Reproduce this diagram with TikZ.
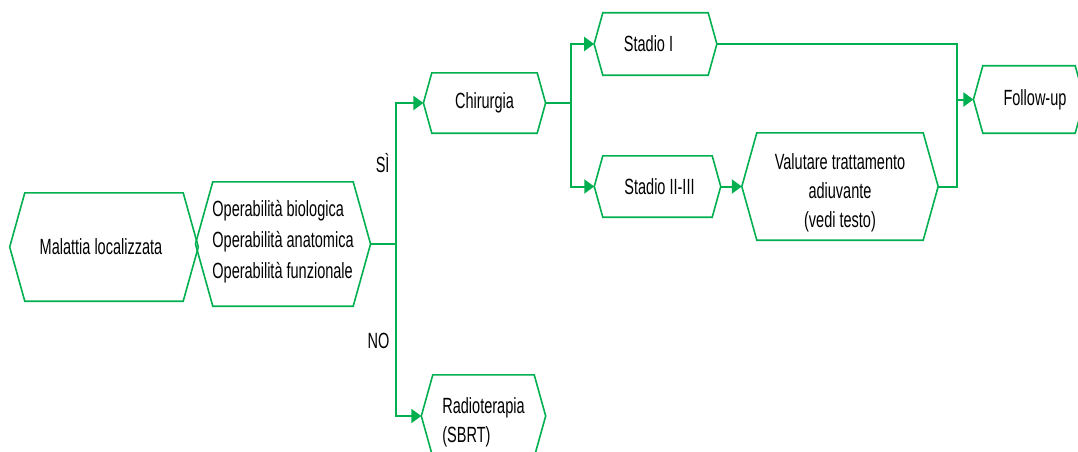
\documentclass[tikz,border=0pt]{standalone}
\usepackage{fontspec}
\newfontfamily\labelfont{Liberation Sans}[FakeStretch=0.66]
\usetikzlibrary{arrows.meta,calc}
\definecolor{flowgreen}{RGB}{0,176,80}
\tikzset{
  hexlabel/.style={rectangle, draw=none, inner sep=0pt,
    font=\labelfont\fontsize{22}{29}\selectfont, text=black},
  hexline/.style={draw=flowgreen, line width=1.6pt, line join=miter},
  link/.style={draw=flowgreen, line width=2pt},
  arrowlink/.style={link, -{Triangle[length=10pt,width=14pt]}},
  branchlabel/.style={font=\labelfont\fontsize{22}{26}\selectfont, text=black}
}
% hexagonal box: name, centre x, centre y, width of the flat edges, height, text options, text
\newcommand\hexnode[7]{%
  \node[hexlabel, minimum width=#4pt, minimum height=#5pt] (#1) at (#2,#3) {};
  \node[hexlabel, #6] (#1-t) at (#1.center) {#7};
  \coordinate (#1-w) at ($(#1.west)+(-0.14*#5pt,0)$);
  \coordinate (#1-e) at ($(#1.east)+(0.14*#5pt,0)$);
  \draw[hexline] (#1.north west) -- (#1.north east) -- (#1-e) --
    (#1.south east) -- (#1.south west) -- (#1-w) -- cycle;
}
\begin{document}
\begin{tikzpicture}[x=1pt,y=-1pt]
\useasboundingbox[fill=white] (0,0) rectangle (1078,452);

\hexnode{mal}{104}{247}{158}{108}{xshift=-3pt}{Malattia localizzata}
\hexnode{op}{283}{244}{140}{124}{align=left, font=\labelfont\fontsize{22}{31}\selectfont, yshift=2pt}{Operabilità biologica\\Operabilità anatomica\\Operabilità funzionale}
\hexnode{chir}{484.5}{103}{105}{60}{}{Chirurgia}
\hexnode{rad}{483.5}{416}{101}{82}{align=left, yshift=-6pt}{Radioterapia\\(SBRT)}
\hexnode{st1}{655.5}{44}{105}{62}{xshift=-7pt}{Stadio I}
\hexnode{st2}{657.5}{186.5}{109}{61}{xshift=2pt}{Stadio II-III}
\hexnode{val}{840}{186.5}{166}{107}{align=center, yshift=-6pt}{Valutare trattamento\\adiuvante\\(vedi testo)}
\hexnode{fu}{1029}{99.5}{92}{67}{xshift=6pt}{Follow-up}

% branching after the operability assessment
\coordinate (split) at (396,244);
\draw[link] (op-e) -- (split);
\draw[arrowlink] (split) |- (chir-w);
\draw[arrowlink] (split) |- (rad-w);
\node[branchlabel, anchor=east] (si) at (393,163) {SÌ};
\node[branchlabel, anchor=east] (no) at (393,341) {NO};

% staging after surgery
\coordinate (stage) at (571,103);
\draw[link] (chir-e) -- (stage);
\draw[arrowlink] (stage) |- (st1-w);
\draw[arrowlink] (stage) |- (st2-w);
\draw[arrowlink] (st2-e) -- (val-w);

% merge into follow-up
\coordinate (merge) at (957,99.5);
\draw[link] (st1-e) -| (merge);
\draw[link] (val-e) -| (merge);
\draw[arrowlink] (merge) -- (fu-w);
\end{tikzpicture}
\end{document}
